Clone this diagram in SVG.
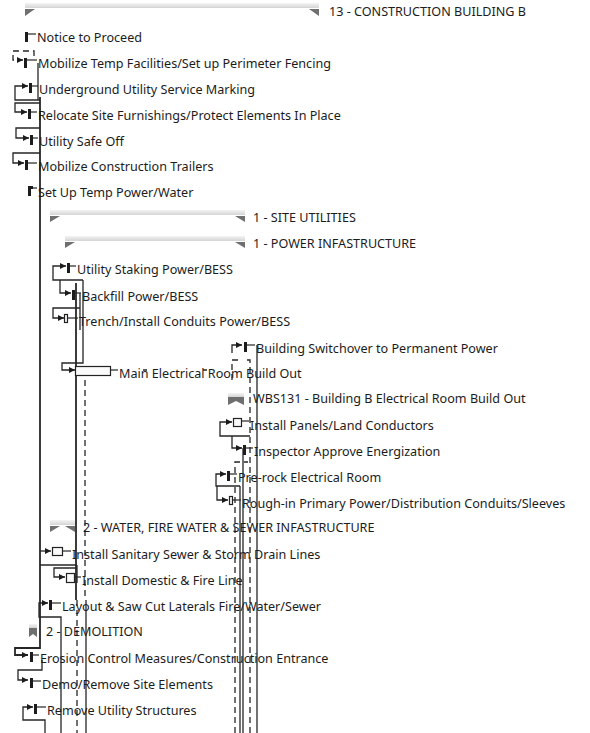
<svg xmlns="http://www.w3.org/2000/svg" width="590" height="733" viewBox="0 0 590 733">
<style>
.t{font-family:"Noto Sans","DejaVu Sans",sans-serif;font-size:12.6px;fill:#1c1c1c}
.ln{stroke:#262626;stroke-width:1.3;fill:none}
.dl{stroke:#262626;stroke-width:1.3;fill:none;stroke-dasharray:6 4}
.bar{fill:#1c1c1c}
.tk{stroke:#262626;stroke-width:1.2}
.tri{fill:#6f6f6f}
.band{fill:url(#g)}
.box{fill:#fafafa;stroke:#222;stroke-width:1.2}
</style>
<defs>
<linearGradient id="g" x1="0" y1="0" x2="0" y2="1"><stop offset="0" stop-color="#f4f4f4"/><stop offset="1" stop-color="#d4d4d4"/></linearGradient>
<marker id="ar" viewBox="0 0 6 6" refX="6" refY="3" markerWidth="6" markerHeight="6" markerUnits="userSpaceOnUse" orient="auto"><path d="M0,0 L6,3 L0,6 z" fill="#1c1c1c"/></marker>
</defs>
<rect width="590" height="733" fill="#ffffff"/>
<g id="connectors">
<path class="dl" d="M34 56 V51 H13 V60 H23" marker-end="url(#ar)"/>
<path class="ln" d="M38 63 V100"/>
<path class="ln" d="M40 97 V648 H15 V655 H28" marker-end="url(#ar)" style="stroke-width:1.8"/>
<path class="ln" d="M40 100 H15 V86 H28" marker-end="url(#ar)"/>
<path class="ln" d="M40 103 H15 V112 H27" marker-end="url(#ar)"/>
<path class="ln" d="M40 128 H16 V138 H29" marker-end="url(#ar)"/>
<path class="ln" d="M40 153 H13 V163 H24" marker-end="url(#ar)"/>
<path class="ln" d="M83 280 H53 V266 H66" marker-end="url(#ar)"/>
<path class="ln" d="M60 280 V293 H71" marker-end="url(#ar)"/>
<path class="ln" d="M80 308 H53 V318 H64" marker-end="url(#ar)"/>
<path class="ln" d="M80 293 V330"/>
<path class="ln" d="M83 280 V363 H62 V370 H75" marker-end="url(#ar)"/>
<path class="ln" d="M76 283 V600" style="stroke-width:1.8"/>
<path class="dl" d="M85 380 V600"/>
<path class="dl" d="M77 600 V733"/>
<path class="ln" d="M86 600 V733"/>
<path class="ln" d="M143 370 H147 M203 370 H207"/>
<path class="ln" d="M232 353 V345 H242" marker-end="url(#ar)"/>
<path class="dl" d="M232 380 V360 H238"/>
<path class="dl" d="M247 360 H250 V733"/>
<path class="ln" d="M257 345 V733"/>
<path class="ln" d="M250 436 H220 V422 H232" marker-end="url(#ar)"/>
<path class="ln" d="M232 436 V448 H242" marker-end="url(#ar)"/>
<path class="dl" d="M235 733 V462 H248"/>
<path class="ln" d="M240 486 H216 V474 H226" marker-end="url(#ar)"/>
<path class="ln" d="M217 486 V500 H228" marker-end="url(#ar)"/>
<path class="ln" d="M240 486 V733"/>
<path class="ln" d="M243 448 V733"/>
<path class="ln" d="M40 551 H51" marker-end="url(#ar)"/>
<path class="ln" d="M77 565 H40"/>
<path class="ln" d="M77 565 V583 M77 568 H54 V577 H65" marker-end="url(#ar)"/>
<path class="ln" d="M61 733 V617 H39 V603 H48" marker-end="url(#ar)"/>
<path class="ln" d="M42 660 V670 H18 V680 H28" marker-end="url(#ar)"/>
<path class="ln" d="M45 733 V720 H23 V707 H33" marker-end="url(#ar)"/>
</g>
<g id="n0"><rect class="band" x="25" y="3" width="294" height="5"/><polygon class="tri" points="25,9 35,9 25,16"/><polygon class="tri" points="309,9 319,9 319,16"/><text class="t" x="329" y="16">13 - CONSTRUCTION BUILDING B</text></g>
<g id="n1"><rect class="bar" x="25" y="32" width="3" height="10"/><line class="tk" x1="28" y1="34" x2="36" y2="34"/><text class="t" x="37" y="42">Notice to Proceed</text></g>
<g id="n2"><rect class="bar" x="24" y="58" width="3" height="10"/><line class="tk" x1="27" y1="60" x2="37" y2="60"/><text class="t" x="38" y="68">Mobilize Temp Facilities/Set up Perimeter Fencing</text></g>
<g id="n3"><rect class="bar" x="29" y="83" width="3" height="10"/><line class="tk" x1="32" y1="86" x2="38" y2="86"/><text class="t" x="39" y="94">Underground Utility Service Marking</text></g>
<g id="n4"><rect class="bar" x="28" y="109" width="3" height="10"/><line class="tk" x1="31" y1="112" x2="37" y2="112"/><text class="t" x="38" y="120">Relocate Site Furnishings/Protect Elements In Place</text></g>
<g id="n5"><rect class="bar" x="30" y="135" width="3" height="10"/><line class="tk" x1="33" y1="138" x2="38" y2="138"/><text class="t" x="39" y="146">Utility Safe Off</text></g>
<g id="n6"><rect class="bar" x="25" y="160" width="3" height="10"/><line class="tk" x1="28" y1="163" x2="37" y2="163"/><text class="t" x="38" y="171">Mobilize Construction Trailers</text></g>
<g id="n7"><rect class="bar" x="28" y="186" width="3" height="10"/><rect class="bar" x="31" y="186" width="2" height="3"/><line class="tk" x1="33" y1="188" x2="37" y2="188"/><text class="t" x="38" y="197">Set Up Temp Power/Water</text></g>
<g id="n8"><rect class="band" x="50" y="210" width="195" height="5"/><polygon class="tri" points="50,216 60,216 50,222"/><polygon class="tri" points="235,216 245,216 245,222"/><text class="t" x="253" y="222">1 - SITE UTILITIES</text></g>
<g id="n9"><rect class="band" x="65" y="236" width="180" height="5"/><polygon class="tri" points="65,242 75,242 65,248"/><polygon class="tri" points="235,242 245,242 245,248"/><text class="t" x="253" y="248">1 - POWER INFASTRUCTURE</text></g>
<g id="n10"><rect class="bar" x="67" y="263" width="3" height="10"/><line class="tk" x1="70" y1="266" x2="76" y2="266"/><text class="t" x="77" y="274">Utility Staking Power/BESS</text></g>
<g id="n11"><rect class="bar" x="72" y="290" width="3" height="10"/><line class="tk" x1="75" y1="293" x2="81" y2="293"/><text class="t" x="82" y="301">Backfill Power/BESS</text></g>
<g id="n12"><rect class="box" x="64.5" y="314.5" width="3" height="8"/><line class="tk" x1="68" y1="318" x2="78" y2="318"/><text class="t" x="79" y="326">Trench/Install Conduits Power/BESS</text></g>
<g id="n13"><rect class="bar" x="244" y="342" width="3" height="10"/><line class="tk" x1="247" y1="345" x2="255" y2="345"/><text class="t" x="256" y="353">Building Switchover to Permanent Power</text></g>
<g id="n14"><rect class="box" x="75.5" y="366.5" width="35" height="9"/><line class="tk" x1="111" y1="370" x2="118" y2="370"/><text class="t" x="119" y="378">Main Electrical Room Build Out</text></g>
<g id="n15"><rect class="band" x="228" y="393" width="16" height="4"/><polygon class="tri" points="228,397 244,397 244,405 236,401 228,405"/><text class="t" x="253" y="403">WBS131 - Building B Electrical Room Build Out</text></g>
<g id="n16"><rect class="box" x="233.5" y="418.5" width="8" height="8"/><line class="tk" x1="242" y1="421" x2="249" y2="421"/><text class="t" x="250" y="430">Install Panels/Land Conductors</text></g>
<g id="n17"><rect class="bar" x="243" y="445" width="3" height="10"/><line class="tk" x1="246" y1="448" x2="253" y2="448"/><text class="t" x="254" y="456">Inspector Approve Energization</text></g>
<g id="n18"><rect class="bar" x="227" y="471" width="3" height="10"/><line class="tk" x1="230" y1="474" x2="237" y2="474"/><text class="t" x="238" y="482">Pre-rock Electrical Room</text></g>
<g id="n19"><rect class="box" x="229.5" y="496.5" width="3" height="8"/><line class="tk" x1="233" y1="500" x2="241" y2="500"/><text class="t" x="242" y="508">Rough-in Primary Power/Distribution Conduits/Sleeves</text></g>
<g id="n20"><rect class="band" x="50" y="520" width="25" height="5"/><polygon class="tri" points="50,526 60,526 50,532"/><polygon class="tri" points="65,526 75,526 75,532"/><text class="t" x="83" y="532">2 - WATER, FIRE WATER &amp; SEWER INFASTRUCTURE</text></g>
<g id="n21"><rect class="box" x="52.5" y="547.5" width="10" height="8"/><line class="tk" x1="63" y1="551" x2="71" y2="551"/><text class="t" x="72" y="559">Install Sanitary Sewer &amp; Storm Drain Lines</text></g>
<g id="n22"><rect class="box" x="66.5" y="573.5" width="8" height="9"/><line class="tk" x1="75" y1="577" x2="81" y2="577"/><text class="t" x="82" y="585">Install Domestic &amp; Fire Line</text></g>
<g id="n23"><rect class="bar" x="49" y="600" width="3" height="10"/><line class="tk" x1="52" y1="603" x2="61" y2="603"/><text class="t" x="62" y="611">Layout &amp; Saw Cut Laterals Fire/Water/Sewer</text></g>
<g id="n24"><rect class="band" x="29" y="624" width="8" height="4"/><polygon class="tri" points="29,628 37,628 37,637 33,634 29,637"/><text class="t" x="46" y="636">2 - DEMOLITION</text></g>
<g id="n25"><rect class="bar" x="30" y="652" width="3" height="10"/><line class="tk" x1="33" y1="655" x2="39" y2="655"/><text class="t" x="40" y="663">Erosion Control Measures/Construction Entrance</text></g>
<g id="n26"><rect class="bar" x="30" y="678" width="3" height="10"/><line class="tk" x1="33" y1="681" x2="41" y2="681"/><text class="t" x="42" y="689">Demo/Remove Site Elements</text></g>
<g id="n27"><rect class="bar" x="34" y="704" width="3" height="10"/><line class="tk" x1="37" y1="707" x2="46" y2="707"/><text class="t" x="47" y="715">Remove Utility Structures</text></g>
</svg>
